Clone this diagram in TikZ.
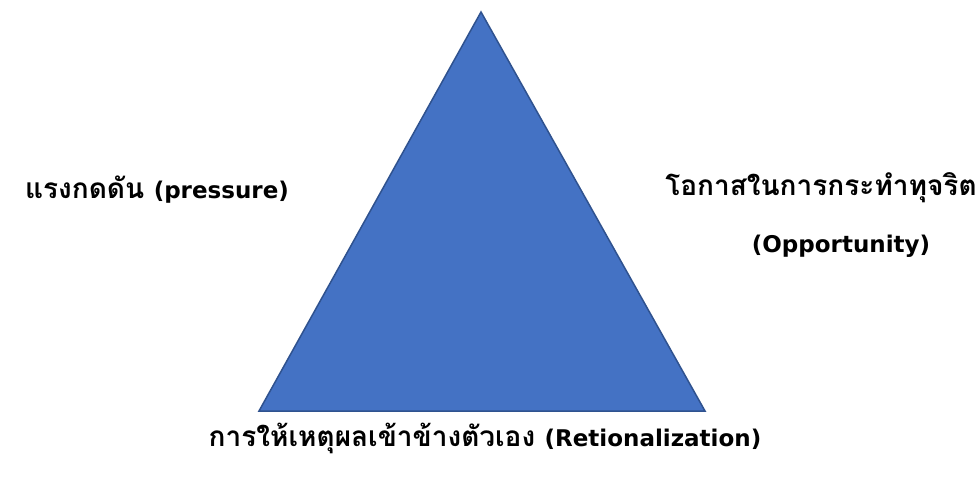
\documentclass[tikz,border=0pt]{standalone}
\usepackage{fontspec}
\newfontfamily\thaifont[Script=Thai]{Loma}
\newfontfamily\latfont{DejaVu Sans}
\newcommand{\lat}[1]{{\latfont\fontsize{23}{27}\selectfont #1}}
\usetikzlibrary{positioning}
\definecolor{trifill}{HTML}{4472C4}
\definecolor{triedge}{HTML}{2F528F}

\begin{document}
\begin{tikzpicture}[x=1pt,y=-1pt,
  lbl/.style={font=\thaifont\bfseries\fontsize{28}{33}\selectfont,inner sep=0pt}]
  \useasboundingbox (0,0) rectangle (979,478);
  % fraud triangle
  \coordinate (apex) at (481,12);
  \coordinate (bl) at (259,411);
  \coordinate (br) at (705,411);
  \fill[trifill] (apex) -- (bl) -- (br) -- cycle;
  \draw[triedge,line width=1.5pt,line join=miter] (apex) -- (bl) -- (br) -- cycle;
  % labels
  \node[lbl] (press) at (157,190) {แรงกดดัน \lat{(pressure)}};
  \node[lbl] (oppth) at (821,188) {โอกาสในการกระทำทุจริต};
  \node[lbl] (oppen) at (841,246) {\lat{(Opportunity)}};
  \node[lbl] (ratio) at (485,438) {การให้เหตุผลเข้าข้างตัวเอง \lat{(Retionalization)}};
\end{tikzpicture}
\end{document}
